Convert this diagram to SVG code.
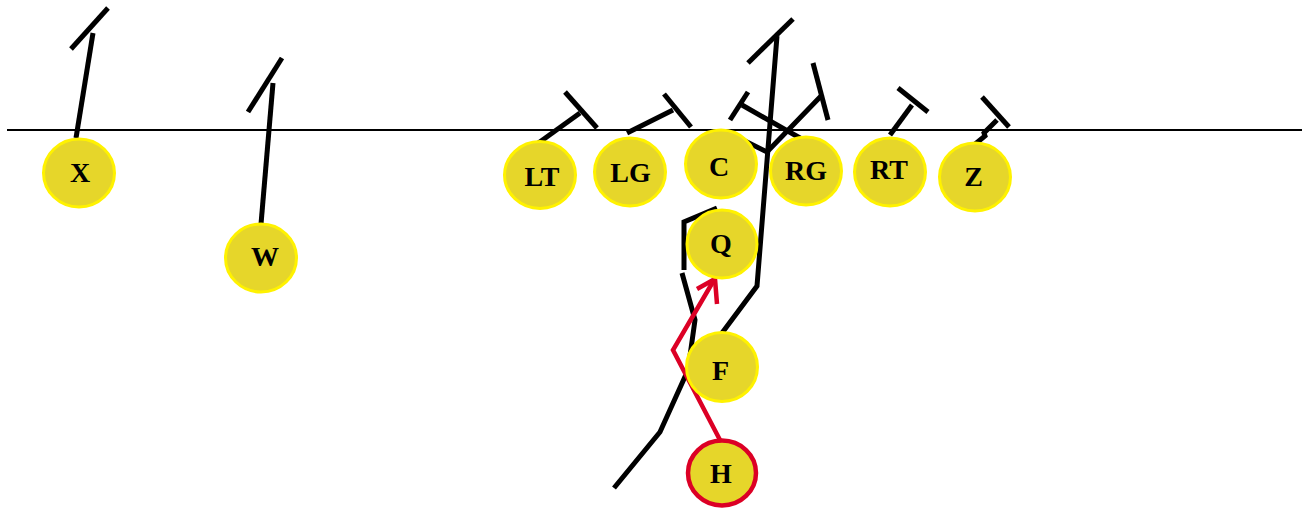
<svg xmlns="http://www.w3.org/2000/svg" width="1308" height="508" viewBox="0 0 1308 508">
<style>
.p{fill:#e6d62a;stroke:#fff200;stroke-width:3}
.h{fill:#e6d62a;stroke:#dc0025;stroke-width:4.5}
.t{font-family:"Liberation Serif","Times New Roman",serif;font-weight:bold;font-size:28px;fill:#000;text-anchor:middle}
.r{fill:none;stroke:#000;stroke-width:5;stroke-linejoin:miter}
.red{fill:none;stroke:#dc0025;stroke-width:4.5;stroke-linejoin:miter}
</style>
<rect width="1308" height="508" fill="#fff"/>
<line x1="7" y1="130" x2="1302" y2="130" stroke="#000" stroke-width="2"/>
<g id="connectors">
<polyline class="r" points="76,138 93,33"/>
<line class="r" x1="71" y1="49" x2="108" y2="8"/>
<polyline class="r" points="261,224 273,83"/>
<line class="r" x1="248" y1="112" x2="282" y2="58"/>
<polyline class="r" points="537,144 580,113"/>
<line class="r" x1="565" y1="92" x2="597" y2="128"/>
<polyline class="r" points="627,133 673,110"/>
<line class="r" x1="664" y1="94" x2="691" y2="127"/>
<polyline class="r" points="729,133 767,152 822,95"/>
<line class="r" x1="813" y1="63" x2="828" y2="120"/>
<polyline class="r" points="807,142 742,105"/>
<line class="r" x1="730" y1="120" x2="748" y2="92"/>
<polyline class="r" points="890,135 912,105"/>
<line class="r" x1="898" y1="88" x2="928" y2="112"/>
<polyline class="r" points="974,145 985,136 984,133 997,120"/>
<line class="r" x1="982" y1="97" x2="1009" y2="127"/>
<polyline class="r" points="722,333 757,286 777,36"/>
<line class="r" x1="748" y1="63" x2="793" y2="19"/>
<polyline class="r" points="717,208 684,222 684,270"/>
<polyline class="r" points="682,273 695,320 688,370 660,432 614,488"/>
<polyline class="red" points="720,440 673,350 714,280"/>
<polyline class="red" points="697,289 715,279 717,304"/>
</g>
<g id="X"><ellipse class="p" cx="79" cy="173" rx="35.5" ry="34"/><text class="t" x="80" y="182">X</text></g>
<g id="W"><ellipse class="p" cx="261" cy="258" rx="35.5" ry="34"/><text class="t" x="265" y="266">W</text></g>
<g id="LT"><ellipse class="p" cx="540" cy="175" rx="35.5" ry="33.5"/><text class="t" x="542" y="186">LT</text></g>
<g id="LG"><ellipse class="p" cx="630" cy="172" rx="35.5" ry="34"/><text class="t" x="630.5" y="182">LG</text></g>
<g id="C"><ellipse class="p" cx="721" cy="164" rx="35.5" ry="34"/><text class="t" x="719" y="176">C</text></g>
<g id="RG"><ellipse class="p" cx="806" cy="171" rx="35.5" ry="34"/><text class="t" x="806" y="180">RG</text></g>
<g id="RT"><ellipse class="p" cx="890" cy="172" rx="35.5" ry="34"/><text class="t" x="889" y="179">RT</text></g>
<g id="Z"><ellipse class="p" cx="975" cy="177" rx="35.5" ry="34"/><text class="t" x="973.5" y="186">Z</text></g>
<g id="Q"><ellipse class="p" cx="722" cy="244" rx="35" ry="34"/><text class="t" x="721" y="253">Q</text></g>
<g id="F"><ellipse class="p" cx="722" cy="367" rx="35.5" ry="34.5"/><text class="t" x="720.5" y="380">F</text></g>
<g id="H"><ellipse class="h" cx="722" cy="473" rx="34" ry="32.5"/><text class="t" x="721" y="483">H</text></g>
</svg>
